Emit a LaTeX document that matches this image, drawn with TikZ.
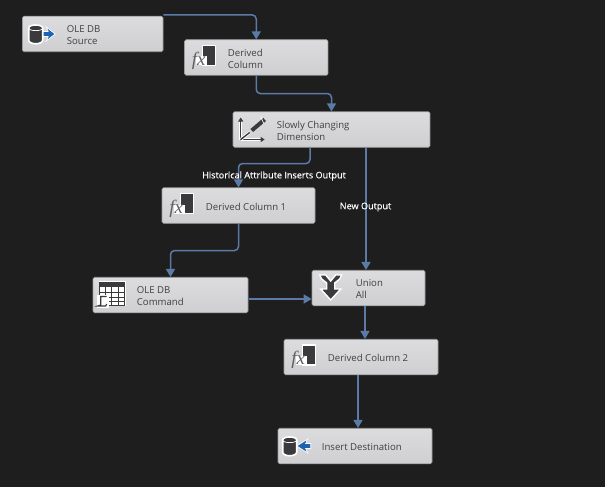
\documentclass[tikz,border=0pt]{standalone}
\usepackage{fontspec}
\setmainfont{Open Sans}
\newfontfamily\flowfont[FakeBold=0.35]{Open Sans}
\newfontfamily\fxfont{Liberation Serif}
\usetikzlibrary{arrows.meta,calc}

\definecolor{canvas}{HTML}{1E1E1E}
\definecolor{flow}{HTML}{5B7BA6}
\definecolor{boxtop}{HTML}{DCDCDE}
\definecolor{boxbot}{HTML}{CFCFD1}
\definecolor{boxline}{HTML}{9A9A9C}
\definecolor{icondark}{HTML}{3A3A3C}
\definecolor{iconblue}{HTML}{1C63B0}

\tikzset{
    blockbox/.style={draw=boxline,top color=boxtop,bottom color=boxbot,rounded corners=1.5pt,
        line width=0.6pt,minimum height=35.5pt,inner sep=0pt},
    blocktext/.style={anchor=west,align=left,inner sep=0pt,text=black!75,yshift=-1pt,
        font=\fontsize{9.6}{12}\selectfont},
    flowlabel/.style={text=white,inner sep=0pt,font=\flowfont\fontsize{9.1}{11}\selectfont},
    flowline/.style={draw=flow,line width=1.5pt,rounded corners=4pt,-{Triangle[length=8pt,width=9pt]}},
    halo/.style={preaction={draw=white,line width=3pt}},
    dbicon/.pic={
        \fill[icondark,draw=white,line width=1.6pt] (0,-6) .. controls (0,-10) and (14,-10) .. (14,-6) -- (14,6)
            .. controls (14,11) and (0,11) .. (0,6) -- cycle;
        \draw[white,line width=0.7pt] (0,-6) .. controls (0,-2.5) and (14,-2.5) .. (14,-6);
    },
    fxicon/.pic={
        \fill[icondark,draw=white,line width=1.2pt] (18.5,-12) rectangle (31.5,8);
        \fill[white] (12,-1) rectangle (23,8);
        \node[text=icondark!80,inner sep=0pt,font=\fxfont\itshape\fontsize{19}{19}\selectfont] (-t) at (14.5,3) {fx};
    },
    scdicon/.pic={
        \draw[icondark,line width=1.4pt,halo,-{Triangle[length=4pt,width=5pt]}] (8,10) -- (8,-12);
        \draw[icondark,line width=1.4pt,halo,-{Triangle[length=4pt,width=5pt]}] (8,10) -- (32,10);
        \draw[icondark,line width=1.4pt,halo] (8,10) -- (17,3);
        \draw[icondark,line width=4pt,halo] (19,1) -- (32,-10);
        \draw[white,line width=0.7pt] (28,-13) -- (31,-6);
    },
    gridicon/.pic={
        \fill[white] (6,-14) rectangle (33,11);
        \fill[icondark] (7,-13) rectangle (32,-8);
        \foreach \gridx in {13,19,26}
            \draw[icondark,line width=0.7pt] (\gridx,-13) -- (\gridx,10);
        \foreach \gridy in {-3,2,6}
            \draw[icondark,line width=0.7pt] (7,\gridy) -- (32,\gridy);
        \draw[icondark,line width=0.7pt] (7,-13) rectangle (32,10);
        \fill[white] (4,0) rectangle (16,13);
        \draw[icondark,line width=1.1pt] (14,1.5) -- (8,1.5) -- (8,10) -- (5,11) -- (13,11) -- (14,9);
    },
    unionicon/.pic={
        \fill[icondark,draw=white,line width=1.4pt] (8,-13) -- (14,-13) -- (19,-7) -- (24,-13) -- (30,-13)
            -- (28,-9) -- (23,-5) -- (23,1) -- (29,1) -- (19,12) -- (9,1) -- (15,1) -- (15,-5) -- (10,-9) -- cycle;
    },
}

\begin{document}
\begin{tikzpicture}[x=1pt,y=-1pt]
    \fill[canvas] (0,0) rectangle (605,487);
    \useasboundingbox (0,0) rectangle (605,487);

    % blocks
    \node[blockbox,minimum width=140.5pt] (src) at (92.75,34) {};
    \node[blockbox,minimum width=143.5pt] (dcol) at (256.25,57.5) {};
    \node[blockbox,minimum width=197pt] (scd) at (331.5,129.5) {};
    \node[blockbox,minimum width=153pt] (dcola) at (238.5,205.5) {};
    \node[blockbox,minimum width=155pt] (cmd) at (170.5,295) {};
    \node[blockbox,minimum width=113pt] (union) at (368.5,288) {};
    \node[blockbox,minimum width=154pt] (dcolb) at (361,357) {};
    \node[blockbox,minimum width=154pt] (dest) at (355,446) {};

    % block texts
    \node[blocktext] (srctext) at ([xshift=44.5pt]src.west) {OLE DB\\Source};
    \node[blocktext] (dcoltext) at ([xshift=43.5pt]dcol.west) {Derived\\Column};
    \node[blocktext] (scdtext) at ([xshift=44pt]scd.west) {Slowly Changing\\Dimension};
    \node[blocktext] (dcolatext) at ([xshift=44pt]dcola.west) {Derived Column 1};
    \node[blocktext] (cmdtext) at ([xshift=44pt]cmd.west) {OLE DB\\Command};
    \node[blocktext] (uniontext) at ([xshift=44pt]union.west) {Union\\All};
    \node[blocktext] (dcolbtext) at ([xshift=44pt]dcolb.west) {Derived Column 2};
    \node[blocktext] (desttext) at ([xshift=44pt]dest.west) {Insert Destination};

    % icons
    \path (src.west) ++(6.5,0) pic {dbicon};
    \fill[iconblue,draw=white,line width=0.7pt] (src.west) ++(21,-2.5) -- ++(5,0) -- ++(-2,-4.5) -- ++(9,7)
        -- ++(-9,7) -- ++(2,-4.5) -- ++(-5,0) -- cycle;
    \path (dcol.west) pic (dcolfx) {fxicon};
    \path (scd.west) pic {scdicon};
    \path (dcola.west) pic (dcolafx) {fxicon};
    \path (cmd.west) pic {gridicon};
    \path (union.west) pic {unionicon};
    \path (dcolb.west) pic (dcolbfx) {fxicon};
    \path (dest.west) ++(5,0) pic {dbicon};
    \fill[iconblue,draw=white,line width=0.7pt] (dest.west) ++(33,-2.5) -- ++(-5,0) -- ++(2,-4.5) -- ++(-11,7)
        -- ++(11,7) -- ++(-2,-4.5) -- ++(5,0) -- cycle;

    % connectors
    \coordinate (srcout) at ([yshift=1pt]src.north east);
    \coordinate (scdleft) at ([xshift=-21.5pt]scd.south);
    \coordinate (scdright) at ([xshift=34.5pt]scd.south);
    \coordinate (unionin) at ([xshift=-2.5pt]union.north);
    \coordinate (unionout) at ([xshift=-3.5pt]union.south);
    \coordinate (cmdout) at ([xshift=1pt,yshift=-4pt]cmd.east);
    \coordinate (unionleft) at (union.west |- cmdout);
    \coordinate (dcolbin) at (unionout |- dcolb.north);
    \coordinate (dcolbout) at ([xshift=-3pt]dcolb.south);
    \coordinate (destin) at (dcolbout |- dest.north);

    \path[flowline] (srcout) -| (dcol.north);
    \path[flowline] (dcol.south) -- ++(0,18) -| (scd.north);
    \path[flowline] (scdleft) -- ++(0,16) -| (dcola.north);
    \path[flowline] (scdright) -- (unionin);
    \path[flowline] (dcola.south) -- ++(0,27) -| (cmd.north);
    \path[flowline] (cmdout) -- (unionleft);
    \path[flowline] (unionout) -- (dcolbin);
    \path[flowline] (dcolbout) -- (destin);

    % labels
    \node[flowlabel] (histlabel) at (274,176) {Historical Attribute Inserts Output};
    \node[flowlabel] (newlabel) at (365.5,207) {New Output};

\end{tikzpicture}
\end{document}
